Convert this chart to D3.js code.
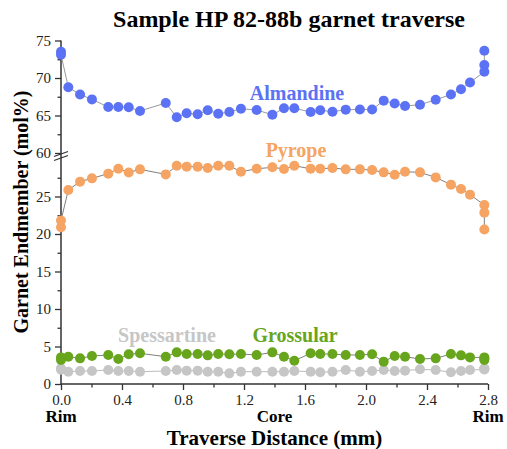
<!DOCTYPE html>
<html>
<head>
<meta charset="utf-8">
<script src="https://cdnjs.cloudflare.com/ajax/libs/d3/7.8.5/d3.min.js"></script>
<style>
    html, body { margin: 0; padding: 0; background: #fff; }
    #space { width: 507px; height: 449px; }
</style>
</head>
<body>
<div id="space"></div>
<script>
// traverse positions (mm), shared by every endmember
var distance = [0, 0, 0.048, 0.125, 0.203, 0.31, 0.376, 0.444, 0.518, 0.687,
    0.759, 0.824, 0.896, 0.962, 1.031, 1.104, 1.18, 1.283, 1.386, 1.462,
    1.53, 1.637, 1.70, 1.78, 1.867, 1.96, 2.04, 2.116, 2.188, 2.256,
    2.354, 2.457, 2.557, 2.623, 2.682, 2.776, 2.776, 2.776];

var almandine = [73.5, 73.1, 68.76, 67.8, 67.15, 66.13, 66.13, 66.1, 65.6, 66.67,
    64.76, 65.3, 65.16, 65.7, 65.24, 65.47, 65.9, 65.73, 65.1, 65.96,
    65.96, 65.47, 65.7, 65.5, 65.78, 65.8, 65.8, 66.98, 66.6, 66.27,
    66.44, 67.1, 67.8, 68.5, 69.4, 70.84, 71.73, 73.64];

var pyrope = [20.9, 21.8, 25.87, 26.98, 27.42, 28.05, 28.7, 28.2, 28.62, 27.95,
    29.1, 28.98, 28.98, 28.8, 29.1, 29.1, 28.3, 28.7, 28.89, 28.67,
    29.1, 28.7, 28.7, 28.8, 28.62, 28.62, 28.53, 28.22, 27.9, 28.3,
    28.22, 27.55, 26.58, 26.0, 25.25, 23.87, 22.85, 20.6];

var grossular = [3.2, 3.55, 3.64, 3.42, 3.73, 3.87, 3.33, 3.96, 4.09, 3.64,
    4.22, 4.0, 4.0, 3.82, 4.0, 3.96, 4.0, 3.87, 4.22, 3.64,
    3.1, 4.09, 4.0, 4.0, 3.87, 3.87, 3.96, 2.98, 3.73, 3.64,
    3.33, 3.42, 4.0, 3.82, 3.55, 3.55, 3.4, 3.2];

var spessartine = [1.9, 2.09, 1.64, 1.73, 1.73, 1.87, 1.73, 1.73, 1.64, 1.73,
    1.87, 1.78, 1.78, 1.64, 1.64, 1.42, 1.64, 1.64, 1.64, 1.64,
    1.73, 1.64, 1.56, 1.64, 1.87, 1.64, 1.73, 1.87, 1.73, 1.78,
    1.96, 1.87, 1.56, 1.73, 1.87, 1.95, 2.0, 2.1];

var x_ticks = [0, 0.4, 0.8, 1.2, 1.6, 2.0, 2.4, 2.8];
var x_minor = [0.2, 0.6, 1.0, 1.4, 1.8, 2.2, 2.6];
var low_ticks = [0, 5, 10, 15, 20, 25];
var low_minor = [2.5, 7.5, 12.5, 17.5, 22.5, 27.5];
var up_ticks = [60, 65, 70, 75];
var up_minor = [62.5, 67.5, 72.5];
var zone_labels = [{ d: 0, t: "Rim" }, { d: 1.4, t: "Core" }, { d: 2.8, t: "Rim" }];

var svg, x, y_low, y_up;
var FONT = "'Liberation Serif', 'Times New Roman', serif";
var AXIS_COLOR = "#333";

init();

function init() {
    initSvg();
    initScales();
    drawAxes();
    drawSeries(spessartine, y_low, "#c6c6c6", "#bcbcbc");
    drawSeries(grossular, y_low, "#67a61c", "#808080");
    drawSeries(pyrope, y_low, "#f5a463", "#808080");
    drawSeries(almandine, y_up, "#5b72f5", "#9a9a9a");
    drawLabels();
}

function initSvg() {
    svg = d3.select("#space").append("svg")
        .attr("xmlns", "http://www.w3.org/2000/svg")
        .attr("width", 507)
        .attr("height", 449);

    //Reorder elements.
    svg.append("g").attr("id", "axis");
    svg.append("g").attr("id", "path");
    svg.append("g").attr("id", "dot");
    svg.append("g").attr("id", "text");
}

function initScales() {
    x = d3.scaleLinear().domain([0, 2.8]).range([61, 488]);
    // broken y axis : 0-30 lower part, 60-75 upper part
    y_low = d3.scaleLinear().domain([0, 30]).range([384, 159]);
    y_up = d3.scaleLinear().domain([60, 75]).range([153, 40.5]);
}

/************************************************
				Axes
*************************************************/
function styleAxis(g) {
    g.select(".domain").remove();
    g.selectAll("line").attr("stroke", AXIS_COLOR).attr("stroke-width", 1.3);
    g.selectAll("text")
        .attr("font-family", FONT)
        .attr("font-size", 15)
        .attr("fill", "#222");
}

function drawAxes() {
    var g = svg.select("#axis");

    // x axis
    g.append("g")
        .attr("transform", "translate(0,384)")
        .call(d3.axisBottom(x).tickValues(x_ticks).tickFormat(d3.format(".1f")).tickSize(6).tickPadding(4))
        .call(styleAxis);
    g.append("g")
        .attr("transform", "translate(0,384)")
        .call(d3.axisBottom(x).tickValues(x_minor).tickFormat("").tickSize(3.5))
        .call(styleAxis);

    // y axis, lower and upper part
    g.append("g")
        .attr("transform", "translate(61,0)")
        .call(d3.axisLeft(y_low).tickValues(low_ticks).tickSize(6).tickPadding(4))
        .call(styleAxis);
    g.append("g")
        .attr("transform", "translate(61,0)")
        .call(d3.axisLeft(y_low).tickValues(low_minor).tickFormat("").tickSize(3.5))
        .call(styleAxis);
    g.append("g")
        .attr("transform", "translate(61,0)")
        .call(d3.axisLeft(y_up).tickValues(up_ticks).tickSize(6).tickPadding(4))
        .call(styleAxis);
    g.append("g")
        .attr("transform", "translate(61,0)")
        .call(d3.axisLeft(y_up).tickValues(up_minor).tickFormat("").tickSize(3.5))
        .call(styleAxis);

    // axis lines
    g.append("line")
        .attr("x1", x(0)).attr("x2", x(0))
        .attr("y1", y_up(75)).attr("y2", y_low(0))
        .attr("stroke", AXIS_COLOR).attr("stroke-width", 1.5);
    g.append("line")
        .attr("x1", x(0)).attr("x2", x(2.8))
        .attr("y1", y_low(0)).attr("y2", y_low(0))
        .attr("stroke", AXIS_COLOR).attr("stroke-width", 1.5);

    // break marks
    var mid = (y_low(30) + y_up(60)) / 2;
    [-2, 2].forEach(function (off) {
        g.append("line")
            .attr("x1", x(0) - 7).attr("y1", mid + off + 2.5)
            .attr("x2", x(0) + 7).attr("y2", mid + off - 2.5)
            .attr("stroke", AXIS_COLOR).attr("stroke-width", 1.3);
    });
}

/************************************************
				Series
*************************************************/
function drawSeries(values, y, color, line_color) {
    var pts = values.map(function (v, i) { return [distance[i], v]; });

    svg.select("#path").append("path")
        .datum(pts)
        .attr("fill", "none")
        .attr("stroke", line_color)
        .attr("stroke-width", 1)
        .attr("d", d3.line()
            .x(function (d) { return x(d[0]); })
            .y(function (d) { return y(d[1]); }));

    svg.select("#dot").append("g")
        .selectAll("circle")
        .data(pts)
        .enter().append("circle")
        .attr("cx", function (d) { return x(d[0]); })
        .attr("cy", function (d) { return y(d[1]); })
        .attr("r", 5)
        .attr("fill", color);
}

/************************************************
				Texts
*************************************************/
function addText(txt, px, py, size, color, anchor) {
    return svg.select("#text").append("text")
        .attr("x", px)
        .attr("y", py)
        .attr("font-family", FONT)
        .attr("font-weight", "bold")
        .attr("font-size", size)
        .attr("fill", color)
        .attr("text-anchor", anchor || "middle")
        .text(txt);
}

function drawLabels() {
    addText("Sample HP 82-88b garnet traverse", 289, 27, 24, "#000");
    addText("Traverse Distance (mm)", 274.5, 445, 21, "#000");
    addText("Garnet Endmember (mol%)", 0, 0, 20, "#000")
        .attr("transform", "translate(28,212) rotate(-90)");

    zone_labels.forEach(function (z) {
        addText(z.t, x(z.d), 422, 17, "#000");
    });

    // series names
    addText("Almandine", 297, 100, 20, "#5b72f5");
    addText("Pyrope", 296, 157, 20, "#f5a463");
    addText("Spessartine", 167, 342, 20, "#c6c6c6");
    addText("Grossular", 295, 342, 20, "#67a61c");
}
</script>
</body>
</html>
